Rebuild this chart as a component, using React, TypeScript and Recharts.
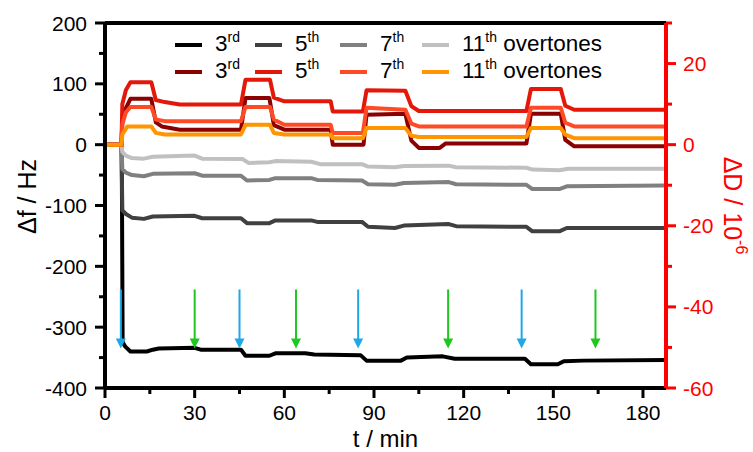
import React from "react";
import { LineChart, Line, XAxis, YAxis, ReferenceLine, Legend } from "recharts";

const FONT = '"Liberation Sans", Arial, Helvetica, sans-serif';

type Pt = [number, number];

// frequency shift, Hz  ([t / min, value])
const f3: Pt[] = [
  [0, 0], [5.6, 0], [5.9, -325], [6.8, -332], [8.5, -340], [14, -340], [16, -337], [18, -335],
  [30, -334], [32, -337], [45.5, -337], [47, -347], [55, -347], [57, -343], [67, -343], [70, -345],
  [85.5, -346], [87.5, -355], [99, -355], [101, -350], [113, -348], [117, -352], [140.5, -352],
  [142.5, -361], [151.5, -361], [153.5, -356], [160, -355], [187.7, -354],
];
const f5: Pt[] = [
  [0, 0], [5.5, 0], [5.8, -108], [7, -114], [9, -120], [13, -122], [16, -118], [30, -117],
  [32.5, -121], [45.5, -121], [47.5, -129], [55, -129], [57, -124.5], [69, -124.5], [71, -127],
  [86, -127], [88, -135], [97, -137], [100, -133], [115, -130.5], [117.5, -134], [141, -135],
  [143, -142.5], [152, -142.5], [154.5, -137], [187.7, -137],
];
const f7: Pt[] = [
  [0, 0], [5.5, 0], [5.8, -40], [7, -46], [9, -50], [13, -52], [16, -48], [30, -47], [32.5, -51],
  [45.5, -51], [47.5, -59], [55, -58], [57, -55], [69, -55], [71, -58], [86, -59], [88, -65],
  [97, -66], [100, -63], [115, -61.5], [117.5, -65], [141, -66], [143, -73], [152, -73],
  [154.5, -68.5], [187.7, -67],
];
const f11: Pt[] = [
  [0, 0], [5.5, 0], [5.8, -12], [7, -18], [9, -22], [13, -23], [16, -20], [30, -18], [32.5, -23],
  [46, -23.5], [48, -30], [55, -29], [57, -27], [69, -28], [72, -32], [86, -32], [88, -36],
  [97, -37], [100, -35], [115, -34.5], [117.5, -37], [141, -38], [143, -41], [152, -42],
  [155, -39.5], [187.7, -39.5],
];

// dissipation shift, 1e-6
const d3: Pt[] = [
  [0, 0], [5.5, 0], [5.8, 6], [7, 9], [8.5, 11.3], [15.5, 11.3], [17, 5.5], [19, 4.5], [25, 3.7],
  [45.5, 3.7], [47, 11.5], [55, 11.5], [56.5, 4.8], [60, 3.7], [75.5, 3.7], [76.2, 0], [86.5, 0],
  [87.5, 7.4], [100.5, 7.6], [102.5, 1], [105, -0.8], [112, -0.8], [114, 0.3], [141, 0.3],
  [142.5, 7.6], [152.5, 7.6], [154, 1.2], [157, -0.4], [187.7, -0.4],
];
const d5: Pt[] = [
  [0, 0], [5.5, 0], [5.8, 10], [7, 13.5], [8.5, 15.4], [15.5, 15.4], [17, 11], [20, 10.5],
  [25, 9.9], [45.5, 9.9], [47, 16], [55.2, 16], [56.5, 11.6], [60, 10.7], [75.5, 10.7],
  [76.2, 8.2], [86.3, 8.2], [87.5, 13.4], [100.5, 13.3], [102.5, 9.5], [105, 8.3], [141, 8.3],
  [142.5, 13.7], [152.5, 13.7], [154, 9.6], [157, 8.6], [187.7, 8.6],
];
const d7: Pt[] = [
  [0, 0], [5.5, 0], [5.8, 5], [7, 8], [8.5, 9.3], [15.5, 9.3], [17, 6.2], [20, 5.8], [45.5, 5.8],
  [47, 9.3], [55.2, 9.3], [56.5, 6.2], [60, 4.9], [75.5, 4.9], [76.2, 2.9], [86.3, 2.9],
  [87.5, 9.1], [100.5, 8.6], [102.5, 5.2], [105, 4.5], [141, 4.5], [142.5, 9.1], [152.5, 9.1],
  [154, 5.4], [157, 4.5], [187.7, 4.5],
];
const d11: Pt[] = [
  [0, 0], [5.5, 0], [5.8, 2.5], [7.5, 4.5], [15.5, 4.5], [17, 2.9], [20, 2.5], [45.5, 2.5],
  [47, 4.9], [55.2, 4.9], [56.5, 2.9], [60, 2.5], [75.5, 2.5], [76.2, 1.6], [86.3, 1.6],
  [87.5, 4.1], [100.5, 4.1], [102.5, 2.2], [105, 1.9], [141, 1.9], [142.5, 4.1], [152.5, 4.1],
  [154, 2.5], [157, 1.6], [187.7, 1.6],
];

const overtones = ["3", "5", "7", "11"];
const suffixes = ["rd", "th", "th", "th"];
const fColors = ["#000000", "#404040", "#808080", "#c0c0c0"];
const dColors = ["#8b0000", "#e3170a", "#ff4a26", "#ff9500"];
const fSeries = [f3, f5, f7, f11];
const dSeries = [d3, d5, d7, d11];

const xTicks = [0, 15, 30, 45, 60, 75, 90, 105, 120, 135, 150, 165, 180];
const fTicks = [-400, -350, -300, -250, -200, -150, -100, -50, 0, 50, 100, 150, 200];
const dTicks = [-60, -50, -40, -30, -20, -10, 0, 10, 20, 30];

// injection markers (t / min)
const blueArrows = [5.3, 45, 84.7, 139.4];
const greenArrows = [30, 63.9, 114.8, 164.1];
const arrowTop = -238;
const arrowTip = -335;

const toPts = (a: Pt[]) => a.map(([t, v]) => ({ t, v }));

function LeftTick({ x, y, payload }: any) {
  const v = payload.value;
  const major = v % 100 === 0;
  return (
    <g>
      <line x1={x} x2={x - (major ? 10 : 6)} y1={y} y2={y} stroke="#000" strokeWidth={3} />
      {major && (
        <text x={x - 18} y={y} dy="0.36em" textAnchor="end" fontSize={21} fontFamily={FONT} fill="#000">
          {v}
        </text>
      )}
    </g>
  );
}

function RightTick({ x, y, payload }: any) {
  const v = payload.value;
  const major = v % 20 === 0;
  return (
    <g>
      <line x1={x} x2={x + (major ? 10 : 6)} y1={y} y2={y} stroke="#ff0000" strokeWidth={3} />
      {major && (
        <text x={x + 17} y={y} dy="0.36em" textAnchor="start" fontSize={21} fontFamily={FONT} fill="#ff0000">
          {v}
        </text>
      )}
    </g>
  );
}

function BottomTick({ x, y, payload }: any) {
  const v = payload.value;
  const major = v % 30 === 0;
  return (
    <g>
      <line x1={x} x2={x} y1={y} y2={y + (major ? 10 : 6)} stroke="#000" strokeWidth={3} />
      {major && (
        <text x={x} y={y + 32} textAnchor="middle" fontSize={21} fontFamily={FONT} fill="#000">
          {v}
        </text>
      )}
    </g>
  );
}

const arrowShape = (color: string) => (p: any) => {
  const { x1, y1, x2, y2 } = p;
  return (
    <g>
      <line x1={x1} y1={y1} x2={x2} y2={y2 - 8} stroke={color} strokeWidth={2} />
      <polygon points={`${x2 - 5},${y2 - 10} ${x2 + 5},${y2 - 10} ${x2},${y2}`} fill={color} />
    </g>
  );
};

const leftTitle = (props: any) => {
  const vb = props.viewBox;
  const cx = vb.x + 27;
  const cy = vb.y + vb.height / 2 - 9;
  return (
    <text x={cx} y={cy} dy="0.35em" textAnchor="middle" fontSize={25} fontFamily={FONT} fill="#000"
      transform={`rotate(-90, ${cx}, ${cy})`}>
      Δf / Hz
    </text>
  );
};

const rightTitle = (props: any) => {
  const vb = props.viewBox;
  const cx = vb.x + 67;
  const cy = vb.y + vb.height / 2;
  return (
    <text x={cx} y={cy} dy="0.35em" textAnchor="middle" fontSize={25} fontFamily={FONT} fill="#ff0000"
      transform={`rotate(90, ${cx}, ${cy})`}>
      ΔD / 10<tspan dy="-0.75em" fontSize={16}>-6</tspan>
    </text>
  );
};

const bottomTitle = (props: any) => {
  const vb = props.viewBox;
  return (
    <text x={vb.x + vb.width / 2} y={vb.y + 58.5} textAnchor="middle" fontSize={24} fontFamily={FONT} fill="#000">
      t / min
    </text>
  );
};

const legendCols = [0, 80, 165, 247];

function LegendRow({ colors }: { colors: string[] }) {
  return (
    <div style={{ position: "relative", height: 27 }}>
      {overtones.map((o, i) => (
        <div key={o} style={{ position: "absolute", left: legendCols[i], top: 0, height: 27, display: "flex", alignItems: "center", whiteSpace: "nowrap" }}>
          <span style={{ display: "inline-block", width: 27, height: 4, background: colors[i], marginRight: 13 }} />
          <span style={{ fontSize: 22.5, fontFamily: FONT, color: "#000", lineHeight: "27px" }}>
            {o}
            <span style={{ fontSize: "0.62em", position: "relative", top: "-0.62em" }}>{suffixes[i]}</span>
            {i === 3 ? " overtones" : ""}
          </span>
        </div>
      ))}
    </div>
  );
}

function LegendBox() {
  return (
    <div>
      <LegendRow colors={fColors} />
      <LegendRow colors={dColors} />
    </div>
  );
}

export default function App() {
  return (
    <div style={{ position: "absolute", left: 0, top: 0, background: "#fff" }}>
      <LineChart width={753} height={452} margin={{ top: 23, right: 0, bottom: 0, left: 0 }}>
        <XAxis
          dataKey="t"
          type="number"
          domain={[0, 187.7]}
          ticks={xTicks}
          interval={0}
          height={64}
          tickSize={0}
          tickMargin={0}
          tickLine={false}
          tick={<BottomTick />}
          axisLine={{ stroke: "#000", strokeWidth: 4 }}
          allowDataOverflow
          label={bottomTitle}
        />
        <YAxis
          yAxisId="f"
          type="number"
          domain={[-400, 200]}
          ticks={fTicks}
          interval={0}
          width={105}
          tickSize={0}
          tickMargin={0}
          tickLine={false}
          tick={<LeftTick />}
          axisLine={{ stroke: "#000", strokeWidth: 4 }}
          allowDataOverflow
          label={leftTitle}
        />
        <YAxis
          yAxisId="d"
          orientation="right"
          type="number"
          domain={[-60, 30]}
          ticks={dTicks}
          interval={0}
          width={87}
          tickSize={0}
          tickMargin={0}
          tickLine={false}
          tick={<RightTick />}
          axisLine={{ stroke: "#ff0000", strokeWidth: 4 }}
          allowDataOverflow
          label={rightTitle}
        />
        <ReferenceLine yAxisId="f" y={200} stroke="#000" strokeWidth={4} ifOverflow="visible" />
        {fSeries.map((s, i) => (
          <Line
            key={"f" + overtones[i]}
            yAxisId="f"
            data={toPts(s)}
            dataKey="v"
            type="linear"
            stroke={fColors[i]}
            strokeWidth={4}
            strokeLinejoin="round"
            dot={false}
            isAnimationActive={false}
            legendType="none"
          />
        ))}
        {dSeries.map((s, i) => (
          <Line
            key={"d" + overtones[i]}
            yAxisId="d"
            data={toPts(s)}
            dataKey="v"
            type="linear"
            stroke={dColors[i]}
            strokeWidth={4}
            strokeLinejoin="round"
            dot={false}
            isAnimationActive={false}
            legendType="none"
          />
        ))}
        {blueArrows.map((t) => (
          <ReferenceLine
            key={"b" + t}
            yAxisId="f"
            segment={[{ x: t, y: arrowTop }, { x: t, y: arrowTip }]}
            ifOverflow="visible"
            shape={arrowShape("#1ea8e6")}
          />
        ))}
        {greenArrows.map((t) => (
          <ReferenceLine
            key={"g" + t}
            yAxisId="f"
            segment={[{ x: t, y: arrowTop }, { x: t, y: arrowTip }]}
            ifOverflow="visible"
            shape={arrowShape("#1ec81e")}
          />
        ))}
        <Legend
          verticalAlign="middle"
          layout="horizontal"
          content={() => <LegendBox />}
          wrapperStyle={{ top: 31, left: 175, width: 450, height: 54 }}
        />
      </LineChart>
    </div>
  );
}
